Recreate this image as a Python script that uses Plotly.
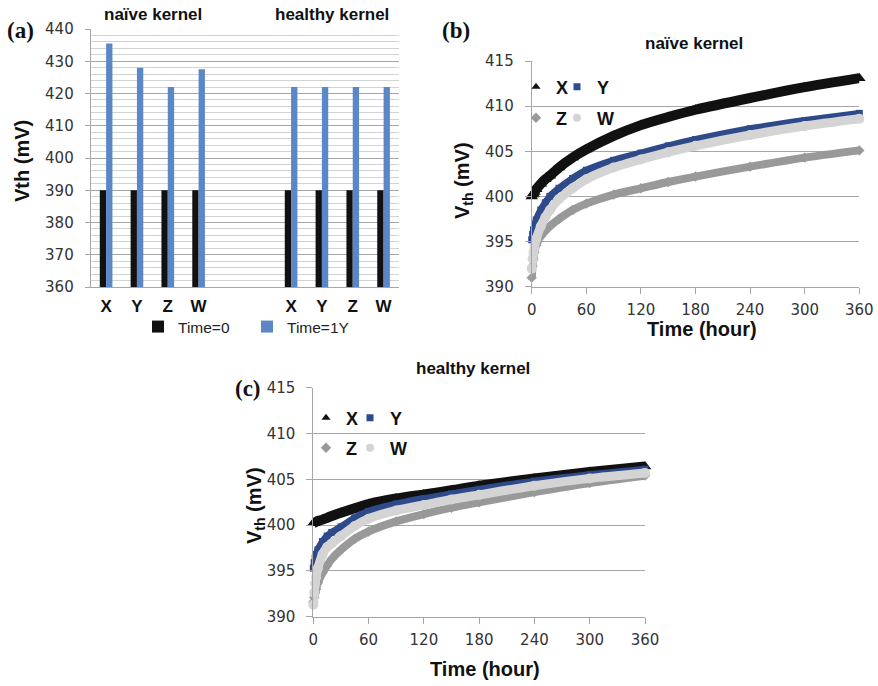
import plotly.graph_objects as go

W_PX, H_PX = 878, 686

# ---------------- data ----------------
categories = ["X", "Y", "Z", "W"]
naive_time0 = [390, 390, 390, 390]
naive_time1y = [435.5, 428, 422, 427.5]
healthy_time0 = [390, 390, 390, 390]
healthy_time1y = [422, 422, 422, 422]

hours = [0, 1, 2, 3, 5, 10, 15, 20, 30, 45, 60, 90, 120, 150, 180, 240, 300, 360]

naive_X = [400.0, 400.2, 400.3, 400.5, 400.8, 401.4, 401.9, 402.3, 403.2, 404.3,
           405.2, 406.7, 407.9, 408.8, 409.6, 410.9, 412.1, 413.1]
naive_Y = [395.2, 395.8, 396.3, 396.7, 397.4, 398.5, 399.3, 400.0, 400.9, 402.0,
           402.9, 404.0, 404.8, 405.6, 406.3, 407.5, 408.4, 409.2]
naive_Z = [391.0, 392.3, 393.1, 393.8, 394.6, 395.6, 396.2, 396.7, 397.5, 398.5,
           399.2, 400.2, 400.9, 401.6, 402.2, 403.3, 404.3, 405.1]
naive_W = [392.0, 393.1, 393.8, 394.4, 395.3, 396.7, 397.7, 398.5, 399.7, 400.9,
           401.9, 403.2, 404.1, 404.9, 405.6, 406.8, 407.8, 408.6]

healthy_X = [400.2, 400.25, 400.3, 400.35, 400.45, 400.6, 400.8, 401.0, 401.35, 401.85,
             402.3, 402.9, 403.35, 403.8, 404.3, 405.1, 405.8, 406.4]
healthy_Y = [395.3, 395.9, 396.4, 396.8, 397.3, 398.2, 398.8, 399.2, 399.8, 400.8,
             401.5, 402.3, 402.9, 403.4, 403.9, 404.8, 405.5, 406.1]
healthy_Z = [391.6, 392.1, 392.6, 393.0, 393.7, 394.8, 395.6, 396.3, 397.3, 398.5,
             399.3, 400.4, 401.2, 401.9, 402.5, 403.6, 404.6, 405.4]
healthy_W = [391.3, 392.6, 393.6, 394.3, 395.3, 396.8, 397.6, 398.0, 398.8, 399.9,
             400.7, 401.6, 402.2, 402.8, 403.3, 404.3, 405.1, 405.7]

time_ticks = [0, 60, 120, 180, 240, 300, 360]

# ---------------- styles ----------------
SANS = "Liberation Sans, Arial, sans-serif"
TICKFONT = "DejaVu Sans, Verdana, sans-serif"
SERIF = "Liberation Serif, Times New Roman, serif"
GRID = "#a6a6a6"
TICKC = "#333333"
C_BLACK = "#111111"
C_BLUEBAR = "#5b87c6"
C_Y = "#2e4a8a"
C_Z = "#999999"
C_W = "#d4d4d4"


def px(x):
    return x / W_PX


def py(y):
    return 1 - y / H_PX


fig = go.Figure()

# ---------------- panel (a) ----------------
bar_pos = list(range(4)) + [i + 6 for i in range(4)]
fig.add_trace(go.Bar(x=bar_pos, y=naive_time0 + healthy_time0, name="Time=0",
                     marker=dict(color=C_BLACK, line=dict(width=0)),
                     xaxis="x", yaxis="y", legend="legend"))
fig.add_trace(go.Bar(x=bar_pos, y=naive_time1y + healthy_time1y, name="Time=1Y",
                     marker=dict(color=C_BLUEBAR, line=dict(width=0)),
                     xaxis="x", yaxis="y", legend="legend2"))

series_style = [
    ("X", dict(color=C_BLACK, width=10), dict(symbol="triangle-up", size=11, color=C_BLACK)),
    ("Y", dict(color=C_Y, width=7), dict(symbol="square", size=7, color=C_Y)),
    ("Z", dict(color=C_Z, width=8), dict(symbol="diamond", size=8, color=C_Z)),
    ("W", dict(color=C_W, width=9), dict(symbol="circle", size=10, color=C_W)),
]
legend_marker = {
    "X": dict(symbol="triangle-up", size=8, color=C_BLACK),
    "Y": dict(symbol="square", size=7, color=C_Y),
    "Z": dict(symbol="diamond", size=8, color=C_Z),
    "W": dict(symbol="circle", size=8, color=C_W),
}

panels = [
    ("x2", "y2", [naive_X, naive_Y, naive_Z, naive_W], ["legend3", "legend4", "legend5", "legend6"]),
    ("x3", "y3", [healthy_X, healthy_Y, healthy_Z, healthy_W], ["legend7", "legend8", "legend9", "legend10"]),
]
for xa, ya, data, legs in panels:
    for (name, lst, mst), vals, lg in zip(series_style, data, legs):
        fig.add_trace(go.Scatter(x=hours, y=vals, name=name, mode="lines+markers",
                                 line=dict(shape="spline", smoothing=0.6, **lst),
                                 marker=dict(line=dict(width=0), **mst),
                                 cliponaxis=False, showlegend=False,
                                 xaxis=xa, yaxis=ya))
        fig.add_trace(go.Scatter(x=[None], y=[None], name=name, mode="markers",
                                 marker=dict(line=dict(width=0), **legend_marker[name]),
                                 xaxis=xa, yaxis=ya, legend=lg, showlegend=True))

# ---------------- axes ----------------
common_y = dict(showline=True, linecolor=GRID, linewidth=1, ticks="outside", ticklen=6,
                tickcolor=GRID, showgrid=True, gridcolor=GRID, gridwidth=1, zeroline=False,
                tickfont=dict(family=TICKFONT, size=15, color=TICKC), ticklabelstandoff=8,
                fixedrange=True, automargin=False)
common_x = dict(showline=True, linecolor=GRID, linewidth=1, zeroline=False, showgrid=False,
                fixedrange=True, automargin=False)

layout = dict(
    width=W_PX, height=H_PX, autosize=False,
    margin=dict(l=0, r=0, t=0, b=0, pad=0, autoexpand=False),
    paper_bgcolor="white", plot_bgcolor="white",
    barmode="group", bargap=0.59, bargroupgap=0,
    xaxis=dict(domain=[px(90.7), px(399)], range=[-0.5, 9.5], anchor="y",
               tickmode="array", tickvals=bar_pos, ticktext=categories * 2, ticks="",
               tickfont=dict(family=SANS, size=17, color=C_BLACK, weight="bold"),
               ticklabelstandoff=4, **common_x),
    yaxis=dict(domain=[py(287), py(29)], range=[360, 440], tick0=360, dtick=10, anchor="x",
               minor=dict(dtick=2, showgrid=True, gridcolor="#d3d3d3", gridwidth=1, ticks=""),
               **common_y),
    xaxis2=dict(domain=[px(531.7), px(859.3)], range=[0, 360], anchor="y2",
                tickmode="array", tickvals=time_ticks, ticks="outside", ticklen=6, tickcolor=GRID,
                tickfont=dict(family=TICKFONT, size=15, color=TICKC), ticklabelstandoff=3,
                **common_x),
    yaxis2=dict(domain=[py(286.7), py(61)], range=[390, 415], dtick=5, anchor="x2", **common_y),
    xaxis3=dict(domain=[px(313.3), px(645)], range=[0, 360], anchor="y3",
                tickmode="array", tickvals=time_ticks, ticks="outside", ticklen=6, tickcolor=GRID,
                tickfont=dict(family=TICKFONT, size=15, color=TICKC), ticklabelstandoff=3,
                **common_x),
    yaxis3=dict(domain=[py(616.7), py(387.7)], range=[390, 415], dtick=5, anchor="x3", **common_y),
)
layout["yaxis"]["ticklen"] = 5


def leg(xp, yp, size, bold):
    return dict(x=px(xp), y=py(yp), xanchor="left", yanchor="middle", orientation="h",
                bgcolor="rgba(0,0,0,0)", borderwidth=0, itemwidth=30,
                font=dict(family=SANS, size=size, color="#222222" if not bold else C_BLACK,
                          weight="bold" if bold else "normal"))


layout["legend"] = leg(138, 327, 15.5, False)
layout["legend2"] = leg(247, 327, 15.5, False)
layout["legend3"] = leg(516, 87, 18, True)
layout["legend4"] = leg(557, 87, 18, True)
layout["legend5"] = leg(516, 118, 18, True)
layout["legend6"] = leg(557, 118, 18, True)
layout["legend7"] = leg(306, 418, 18, True)
layout["legend8"] = leg(350, 418, 18, True)
layout["legend9"] = leg(306, 448, 18, True)
layout["legend10"] = leg(350, 448, 18, True)

fig.update_layout(**layout)

# ---------------- text ----------------
def ann(text, xp, yp, size, family=SANS, angle=0, bold=True, color=C_BLACK):
    fig.add_annotation(text=text, x=px(xp), y=py(yp), xref="paper", yref="paper",
                       showarrow=False, xanchor="center", yanchor="middle", textangle=angle,
                       font=dict(family=family, size=size, color=color,
                                 weight="bold" if bold else "normal"))


ann("(a)", 20, 31, 23, family=SERIF)
ann("(b)", 456, 30, 23, family=SERIF)
ann("(c)", 248, 388, 23, family=SERIF)

ann("naïve kernel", 152.5, 15, 17)
ann("healthy kernel", 332, 15, 17)
ann("naïve kernel", 694, 44, 17)
ann("healthy kernel", 473, 369, 17)

ann("Vth (mV)", 22, 161, 20, angle=-90)
ann("V<sub>th</sub> (mV)", 463, 181, 20, angle=-90)
ann("V<sub>th</sub> (mV)", 255, 506, 20, angle=-90)

ann("Time (hour)", 702, 329, 20)
ann("Time (hour)", 485, 669, 20)

fig.write_html(
    "out.html",
    config={"displayModeBar": False, "responsive": False},
    post_script="document.body.style.margin='0';document.body.style.overflow='hidden';"
                "document.documentElement.style.overflow='hidden';",
)
